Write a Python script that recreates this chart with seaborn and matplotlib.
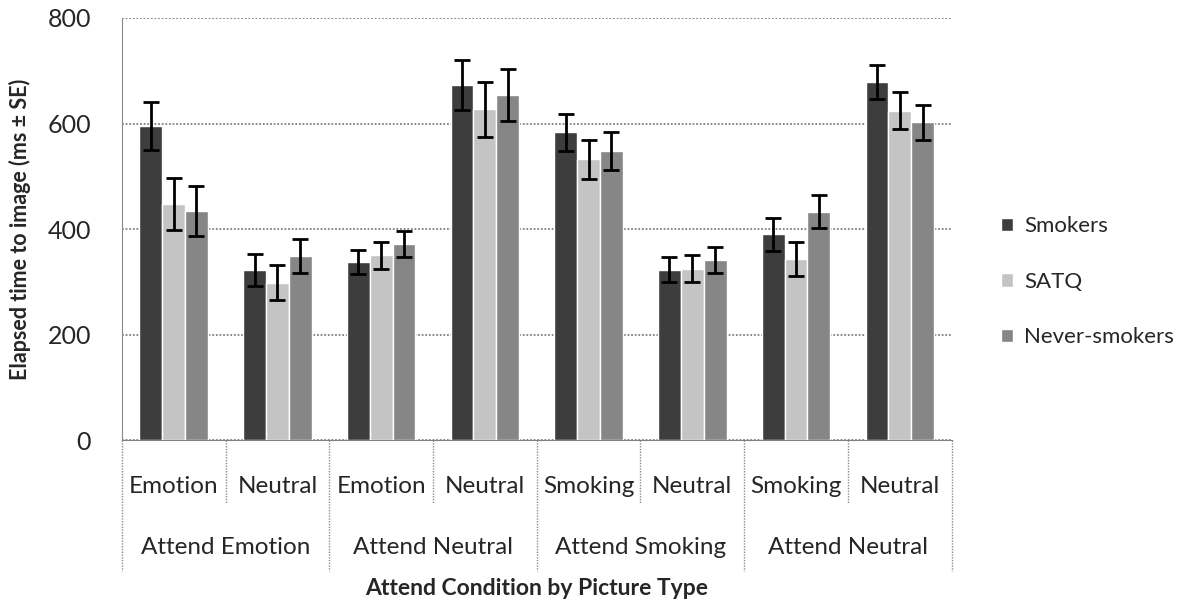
import matplotlib
matplotlib.use("Agg")
import matplotlib.pyplot as plt
import matplotlib.transforms as mtransforms
import numpy as np
import pandas as pd
import seaborn as sns

# Values
conditions = ["Attend Emotion", "Attend Emotion", "Attend Neutral", "Attend Neutral",
              "Attend Smoking", "Attend Smoking", "Attend Neutral", "Attend Neutral"]
picture_types = ["Emotion", "Neutral", "Emotion", "Neutral",
                 "Smoking", "Neutral", "Smoking", "Neutral"]
group_labels = ["Attend Emotion", "Attend Neutral", "Attend Smoking", "Attend Neutral"]
groups = ["Smokers", "SATQ", "Never-smokers"]

smokers_mean = [595, 322, 337, 673, 583, 323, 390, 679]
satq_mean = [448, 298, 350, 627, 532, 325, 343, 624]
never_mean = [434, 349, 372, 654, 547, 341, 433, 602]

smokers_se = [45, 30, 23, 47, 35, 24, 31, 32]
satq_se = [49, 33, 25, 52, 37, 26, 32, 35]
never_se = [47, 32, 25, 50, 36, 25, 31, 34]

colors = ["#3d3d3d", "#c4c4c4", "#868686"]

# long table for seaborn
keys = [f"{i}" for i in range(len(picture_types))]
rows = []
for g, means, ses in zip(groups, [smokers_mean, satq_mean, never_mean],
                         [smokers_se, satq_se, never_se]):
    for k, m, s in zip(keys, means, ses):
        rows.append({"key": k, "group": g, "mean": m, "se": s})
df = pd.DataFrame(rows)

sns.set_style("white")
plt.rcParams["font.family"] = ["Lato", "DejaVu Sans"]

fig = plt.figure(figsize=(11.94, 6.08), dpi=100)
ax = fig.add_axes([0.102, 0.2763, 0.695, 0.6941])

sns.barplot(data=df, x="key", y="mean", hue="group", order=keys,
            hue_order=groups, palette=colors, width=0.66, errorbar=None,
            saturation=1, ax=ax, zorder=3)

# error bars from the SE values
for cont, g in zip(ax.containers, groups):
    sub = df[df.group == g].set_index("key").loc[keys]
    xs = [b.get_x() + b.get_width() / 2 for b in cont]
    ax.errorbar(xs, sub["mean"].values, yerr=sub["se"].values, fmt="none",
                ecolor="black", elinewidth=2, capsize=6, capthick=2, zorder=4)

ax.set_ylim(0, 800)
ax.set_yticks([0, 200, 400, 600, 800])
ax.set_xlim(-0.5, len(keys) - 0.5)
ax.grid(axis="y", color="#808080", linestyle=(0, (1, 1)), linewidth=1.3, zorder=0)
ax.tick_params(axis="y", length=0, pad=22, labelsize=18)
ax.tick_params(axis="x", length=0, pad=26, labelsize=17.5)
ax.set_xticks(range(len(keys)))
ax.set_xticklabels(picture_types)
for s in ["top", "right"]:
    ax.spines[s].set_visible(False)
ax.spines["left"].set_color("#8a8a8a")
ax.spines["left"].set_linestyle((0, (1, 1)))
ax.spines["bottom"].set_color("#808080")
ax.spines["bottom"].set_linestyle((0, (1, 1)))

ax.set_ylabel("Elapsed time to image (ms ± SE)", fontsize=15.5, fontweight="bold")
ax.yaxis.set_label_coords(-0.11, 0.5)
ax.set_xlabel("Attend Condition by Picture Type", fontsize=16.5, fontweight="bold", labelpad=58)

# second level of category labels and divider lines
trans = mtransforms.blended_transform_factory(ax.transData, ax.transAxes)
for i, lab in enumerate(group_labels):
    ax.text(2 * i + 0.5, -0.255, lab, transform=trans, ha="center", va="center", fontsize=17.5)
for i in range(len(keys) + 1):
    x = i - 0.5
    y1 = -0.31 if i % 2 == 0 else -0.15
    ax.plot([x, x], [0, y1], transform=trans, color="#8a8a8a",
            linestyle=(0, (1, 1)), linewidth=1.0, clip_on=False)

ax.legend(loc="center left", bbox_to_anchor=(1.035, 0.375), frameon=False, fontsize=16,
          handlelength=0.55, handleheight=0.55, labelspacing=1.6, handletextpad=0.5)

fig.savefig("out.png", dpi=100)
